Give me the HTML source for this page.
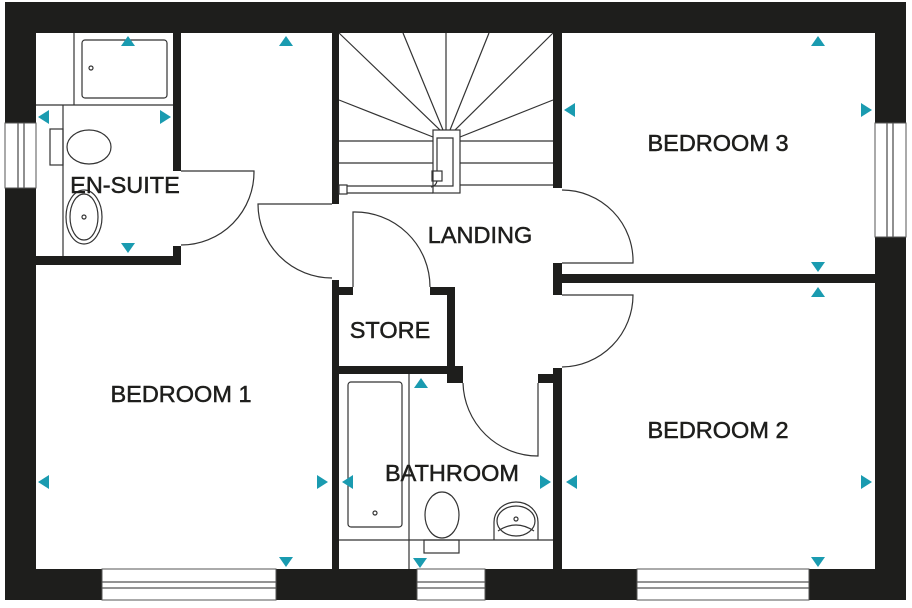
<!DOCTYPE html>
<html><head><style>html,body{margin:0;padding:0;background:#fff}svg{display:block}</style></head>
<body>
<svg width="912" height="608" viewBox="0 0 912 608" xmlns="http://www.w3.org/2000/svg">
<rect width="912" height="608" fill="#fff"/>
<g fill="#1e1e1c">
<rect x="5" y="2" width="901" height="31"/>
<rect x="5" y="2" width="31" height="598"/>
<rect x="875" y="2" width="31" height="598"/>
<rect x="5" y="569" width="901" height="31"/>
<rect x="173" y="33" width="8" height="138"/>
<rect x="173" y="246" width="8" height="19"/>
<rect x="36" y="256" width="145" height="9"/>
<rect x="332" y="33" width="7" height="171"/>
<rect x="332" y="280" width="7" height="289"/>
<rect x="339" y="287" width="14" height="8"/>
<rect x="430" y="287" width="25" height="8"/>
<rect x="447" y="287" width="8" height="87"/>
<rect x="339" y="366" width="116" height="8"/>
<rect x="447" y="366" width="16" height="17"/>
<rect x="538" y="374" width="24" height="9"/>
<rect x="553" y="33" width="9" height="155"/>
<rect x="553" y="263" width="9" height="32"/>
<rect x="553" y="368" width="9" height="201"/>
<rect x="562" y="274" width="313" height="9"/>
</g>
<g fill="#fff" stroke="#555" stroke-width="1">
<rect x="5" y="123" width="31" height="65"/>
<rect x="875" y="123" width="31" height="114"/>
<rect x="102" y="569" width="174" height="31"/>
<rect x="637" y="569" width="172" height="31"/>
<rect x="417" y="569" width="68" height="31"/>
</g>
<g stroke="#555" stroke-width="1.3" fill="none">
<line x1="18" y1="123" x2="18" y2="188"/><line x1="24" y1="123" x2="24" y2="188"/>
<line x1="887" y1="123" x2="887" y2="237"/><line x1="893" y1="123" x2="893" y2="237"/>
<line x1="102" y1="582" x2="276" y2="582"/><line x1="102" y1="588" x2="276" y2="588"/>
<line x1="637" y1="582" x2="809" y2="582"/><line x1="637" y1="588" x2="809" y2="588"/>
<line x1="417" y1="582" x2="485" y2="582"/><line x1="417" y1="588" x2="485" y2="588"/>
</g>
<g stroke="#333" stroke-width="1.2" fill="none">
<line x1="74" y1="33" x2="74" y2="105"/>
<line x1="36" y1="105" x2="173" y2="105"/>
<line x1="63" y1="105" x2="63" y2="256"/>
<rect x="82" y="40" width="85" height="58" rx="3"/>
<circle cx="91" cy="68" r="2"/>
<rect x="50" y="129" width="13" height="36"/>
<ellipse cx="89" cy="147" rx="22" ry="17"/>
<ellipse cx="84" cy="217" rx="18" ry="27"/>
<ellipse cx="84" cy="217" rx="14" ry="23"/>
<circle cx="84" cy="217" r="2"/>
<path d="M181 171 H254 A73 73 0 0 1 181 245"/>
<path d="M332 204 H258 A74 74 0 0 0 332 278"/>
<path d="M353 287 V212 A75 75 0 0 1 430 287"/>
<path d="M562 263 H633 A71 71 0 0 0 562 190"/>
<path d="M562 295 H633 A72 72 0 0 1 562 367"/>
<path d="M538 383 V456 A75 75 0 0 1 463 383"/>
<line x1="339" y1="141" x2="433" y2="141"/><line x1="460" y1="141" x2="553" y2="141"/>
<line x1="339" y1="163" x2="433" y2="163"/><line x1="460" y1="163" x2="553" y2="163"/>
<line x1="460" y1="185" x2="553" y2="185"/>
<line x1="339" y1="33" x2="440" y2="130"/>
<line x1="403" y1="33" x2="443" y2="130"/>
<line x1="446" y1="33" x2="446" y2="130"/>
<line x1="489" y1="33" x2="450" y2="130"/>
<line x1="553" y1="33" x2="455" y2="130"/>
<line x1="339" y1="100" x2="433" y2="137"/>
<line x1="553" y1="100" x2="460" y2="137"/>
<rect x="433" y="130" width="27" height="63"/>
<path d="M437 171 V138 H453 V186 H347"/>
<rect x="432" y="171" width="10" height="10"/>
<path d="M437 181 Q436 186 431 187"/>
<rect x="339" y="185" width="8" height="9"/>
<line x1="347" y1="193" x2="433" y2="193"/>
<rect x="348" y="382" width="54" height="145" rx="3"/>
<circle cx="375" cy="513" r="2"/>
<line x1="409" y1="374" x2="409" y2="569"/>
<line x1="339" y1="540" x2="553" y2="540"/>
<ellipse cx="442" cy="515" rx="17" ry="23"/>
<rect x="424" y="540" width="35" height="13"/>
<path d="M494 540 V522 A22 20 0 0 1 538 522 V540"/>
<ellipse cx="516" cy="521" rx="19" ry="15"/>
<path d="M498 531 Q516 519 534 531"/>
<circle cx="516" cy="519" r="2"/>
</g>
<g fill="#1a9bb0">
<path d="M121 46 L135 46 L128 36Z"/>
<path d="M279 46 L293 46 L286 36Z"/>
<path d="M811 46 L825 46 L818 36Z"/>
<path d="M414 388 L428 388 L421 378Z"/>
<path d="M811 297 L825 297 L818 287Z"/>
<path d="M121 243 L135 243 L128 253Z"/>
<path d="M811 262 L825 262 L818 272Z"/>
<path d="M279 557 L293 557 L286 567Z"/>
<path d="M413 558 L427 558 L420 568Z"/>
<path d="M811 557 L825 557 L818 567Z"/>
<path d="M49 110 L49 124 L38 117Z"/>
<path d="M49 475 L49 489 L38 482Z"/>
<path d="M353 475 L353 489 L342 482Z"/>
<path d="M577 475 L577 489 L566 482Z"/>
<path d="M575 103 L575 117 L564 110Z"/>
<path d="M160 110 L160 124 L171 117Z"/>
<path d="M317 475 L317 489 L328 482Z"/>
<path d="M540 475 L540 489 L551 482Z"/>
<path d="M861 103 L861 117 L872 110Z"/>
<path d="M861 475 L861 489 L872 482Z"/>
</g>
<g font-family="Liberation Sans, Arial, sans-serif" font-size="23.5" fill="#1e1e1c" stroke="#1e1e1c" stroke-width="0.5" text-anchor="middle">
<text x="125" y="193">EN-SUITE</text>
<text x="181" y="402">BEDROOM 1</text>
<text x="718" y="151">BEDROOM 3</text>
<text x="718" y="438">BEDROOM 2</text>
<text x="480" y="243">LANDING</text>
<text x="390" y="338">STORE</text>
<text x="452" y="481">BATHROOM</text>
</g>
</svg>
</body></html>
